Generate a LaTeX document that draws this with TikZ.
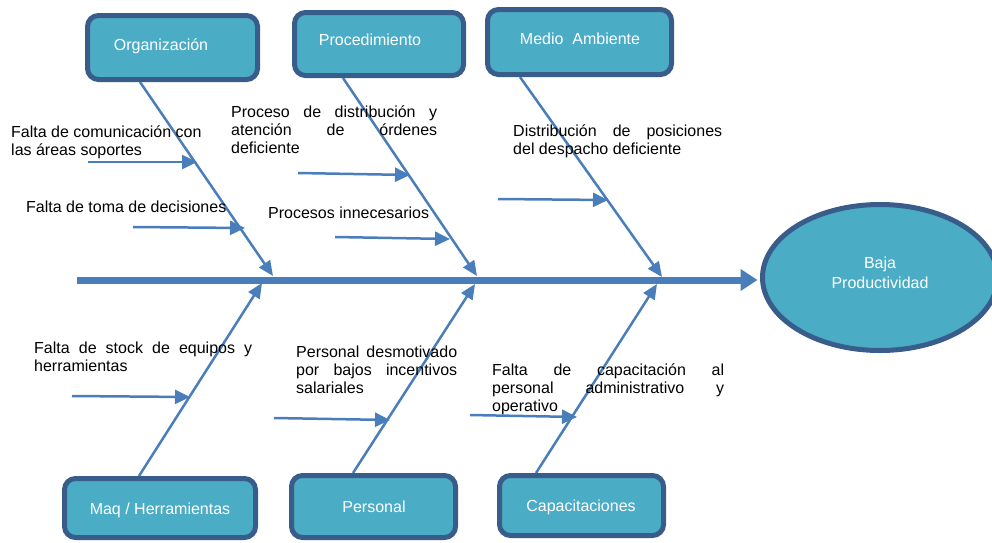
\documentclass[tikz,border=0pt]{standalone}
\usepackage{fontspec}
\setmainfont{Liberation Sans}
\usetikzlibrary{arrows.meta,shapes.geometric}
\definecolor{boxfill}{HTML}{4BACC6}
\definecolor{boxline}{HTML}{385D8A}
\definecolor{bonecol}{HTML}{4A7EBB}
% a line stretched to a given width (justified)
\newcommand{\jline}[2]{\makebox[#1][s]{#2}}

\begin{document}
\begin{tikzpicture}[x=1pt,y=-1pt,
  catbox/.style={draw=boxline, fill=boxfill, line width=5pt, rounded corners=11pt, inner sep=0pt},
  cattext/.style={anchor=base, inner sep=0pt, text=white, font=\fontsize{16}{18}\selectfont},
  bone/.style={draw=bonecol, line width=2.5pt, -{Triangle[length=15pt,width=13pt]}},
  twig/.style={draw=bonecol, line width=2.5pt, -{Triangle[length=15pt,width=14pt]}},
  spine/.style={draw=bonecol, line width=7pt, -{Triangle[length=17pt,width=21pt]}},
  % multi-line nodes: the base anchor sits on the last line
  cause/.style={anchor=base west, inner sep=0pt, align=left, font=\fontsize{16}{18}\selectfont},
]
\useasboundingbox (0,0) rectangle (992,542);

% ---- bone end points ----
\coordinate (orgA) at (140,82);   \coordinate (orgB) at (273,276);
\coordinate (proA) at (343,78);   \coordinate (proB) at (477,276);
\coordinate (medA) at (520,77);   \coordinate (medB) at (662,277);
\coordinate (maqA) at (139,476);  \coordinate (maqB) at (262,283);
\coordinate (perA) at (353,473);  \coordinate (perB) at (475,284);
\coordinate (capA) at (536,473);  \coordinate (capB) at (657,284);
\coordinate (spL)  at (77,280);

% ---- effect ----
\node[ellipse, draw=boxline, fill=boxfill, line width=5pt, minimum width=235pt, minimum height=146pt, inner sep=0pt] (eff) at (880,277.5) {};
\node[anchor=base, align=center, inner sep=0pt, text=white, font=\fontsize{16}{20}\selectfont] (efft) at (880,288) {Baja\\Productividad};

% ---- spine and bones ----
\draw[spine, shorten >=2.5pt] (spL) -- (spL -| eff.west);
\draw[bone] (orgA) -- (orgB);
\draw[bone] (proA) -- (proB);
\draw[bone] (medA) -- (medB);
\draw[bone] (maqA) -- (maqB);
\draw[bone] (perA) -- (perB);
\draw[bone] (capA) -- (capB);

% ---- category boxes ----
\node[catbox, minimum width=170pt, minimum height=64pt] (org) at (172.5,47.5) {};
\node[catbox, minimum width=169pt, minimum height=63pt] (pro) at (379,44) {};
\node[catbox, minimum width=184pt, minimum height=65pt] (med) at (579.5,42) {};
\node[catbox, minimum width=191pt, minimum height=59pt] (maq) at (160,508) {};
\node[catbox, minimum width=164pt, minimum height=62pt] (per) at (373.5,506.5) {};
\node[catbox, minimum width=164pt, minimum height=60pt] (cap) at (581.5,505.5) {};

\node[cattext] (orgt) at (161,50) {Organización};
\node[cattext] (prot) at (370,45) {Procedimiento};
\node[cattext] (medt) at (580,44) {Medio~~Ambiente};
\node[cattext] (maqt) at (160,514) {Maq / Herramientas};
\node[cattext] (pert) at (374,512) {Personal};
\node[cattext] (capt) at (581,511) {Capacitaciones};

% ---- causes (positioned at the baseline of their last line) ----
\node[cause] (c1) at (11,155) {Falta de comunicación con\\las áreas soportes};
\node[cause] (c2) at (26,212) {Falta de toma de decisiones};
\node[cause] (c3) at (231,153) {\jline{206pt}{Proceso de distribución y}\\\jline{206pt}{atención de órdenes}\\deficiente};
\node[cause] (c4) at (268,218) {Procesos innecesarios};
\node[cause] (c5) at (513,154) {\jline{209pt}{Distribución de posiciones}\\del despacho deficiente};
\node[cause] (c6) at (34,371) {\jline{218pt}{Falta de stock de equipos y}\\herramientas};
\node[cause] (c7) at (296,393) {\jline{161pt}{Personal desmotivado}\\\jline{161pt}{por bajos incentivos}\\salariales};
\node[cause] (c8) at (492,411) {\jline{232pt}{Falta de capacitación al}\\\jline{232pt}{personal administrativo y}\\operativo};

% ---- cause arrows ----
\coordinate (t1a) at (88,162);  \coordinate (t1b) at (197,162);
\coordinate (t2a) at (133,227); \coordinate (t2b) at (245,228);
\coordinate (t3a) at (298,173); \coordinate (t3b) at (410,175);
\coordinate (t4a) at (335,237); \coordinate (t4b) at (450,239);
\coordinate (t5a) at (498,199); \coordinate (t5b) at (608,200);
\coordinate (t6a) at (72,396);  \coordinate (t6b) at (190,397);
\coordinate (t7a) at (274,418); \coordinate (t7b) at (390,420);
\coordinate (t8a) at (470,415); \coordinate (t8b) at (577,417);
\foreach \i in {1,...,8} \draw[twig] (t\i a) -- (t\i b);
\end{tikzpicture}
\end{document}
